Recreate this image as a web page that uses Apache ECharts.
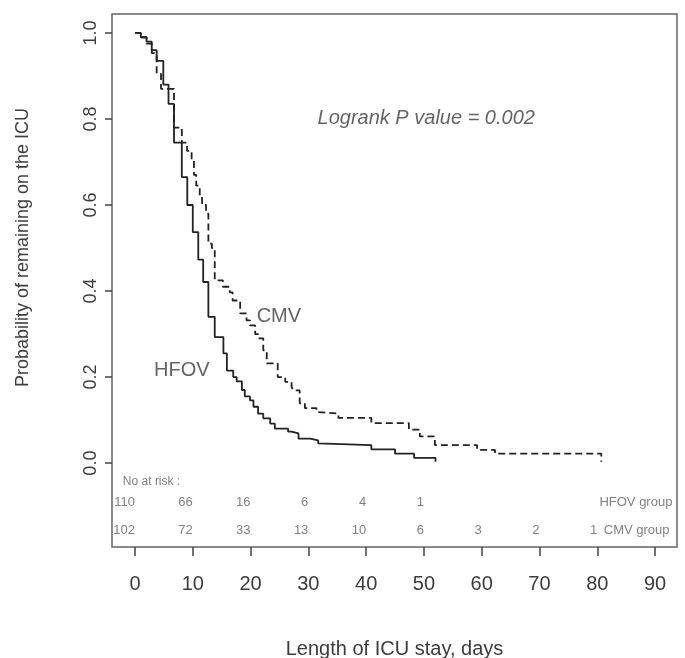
<!DOCTYPE html>
<html>
<head>
<meta charset="utf-8">
<script src="https://cdn.jsdelivr.net/npm/echarts@6/dist/echarts.min.js"></script>
<style>
  html, body { margin: 0; padding: 0; background: #fff; }
  #chart { width: 685px; height: 658px; }
</style>
</head>
<body>
<div id="chart"></div>
<script>
// Kaplan-Meier steps (day, probability)
var hfovDays = [0, 1, 2, 2.9, 3.75, 4.9, 5.8, 6.75, 8.1, 9.05, 10, 10.95, 11.8, 12.7, 13.8, 15.3, 15.9, 17.0, 17.6, 18.5, 19.0, 19.9, 20.5, 21.3, 22.2, 23.4, 24.2, 26.5, 27.1, 28.3, 30.3, 31.7, 32.0, 40.9, 45.0, 48.3, 52];
var hfovSurv = [1.0, 0.99, 0.98, 0.96, 0.935, 0.88, 0.835, 0.745, 0.665, 0.60, 0.537, 0.473, 0.421, 0.34, 0.293, 0.255, 0.215, 0.20, 0.19, 0.17, 0.155, 0.146, 0.131, 0.115, 0.104, 0.092, 0.08, 0.073, 0.069, 0.057, 0.053, 0.046, 0.042, 0.032, 0.022, 0.012, 0.003];

var cmvDays = [0, 1, 2, 2.9, 3.75, 4.5, 6.75, 8.1, 9.0, 9.8, 10.2, 10.6, 11.2, 11.6, 12.3, 12.7, 13.3, 13.8, 15.2, 16.4, 16.9, 18.2, 19.3, 19.9, 20.8, 21.3, 22.2, 22.8, 24.7, 26.0, 27.1, 27.4, 28.5, 29.4, 31.4, 31.7, 35.2, 40.9, 47.4, 49.3, 51.9, 59.2, 62.3, 80.7];
var cmvSurv = [1.0, 0.99, 0.975, 0.953, 0.905, 0.87, 0.78, 0.745, 0.726, 0.708, 0.67, 0.645, 0.62, 0.60, 0.58, 0.51, 0.50, 0.425, 0.41, 0.397, 0.378, 0.348, 0.332, 0.32, 0.30, 0.29, 0.262, 0.232, 0.20, 0.189, 0.177, 0.169, 0.139, 0.128, 0.119, 0.115, 0.105, 0.093, 0.078, 0.062, 0.042, 0.031, 0.022, 0.003];

// numbers at risk
var riskDays = [0, 10, 20, 30, 40, 50, 60, 70, 80];
var hfovRisk = [110, 66, 16, 6, 4, 1];
var cmvRisk = [102, 72, 33, 13, 10, 6, 3, 2, 1];

var xTicks = [0, 10, 20, 30, 40, 50, 60, 70, 80, 90];
var yTicks = [0, 0.2, 0.4, 0.6, 0.8, 1.0];

function pairs(xs, ys) {
  var out = [];
  for (var i = 0; i < ys.length; i++) out.push([xs[i], ys[i]]);
  return out;
}

var textColor = '#3c3c3c';
var riskColor = '#606060';
var font = 'Liberation Sans, Arial, Helvetica, sans-serif';

function textSeries(data, label) {
  return {
    type: 'scatter',
    symbolSize: 0,
    silent: true,
    data: data,
    label: Object.assign({ show: true, fontFamily: font }, label)
  };
}

var hfovRiskData = hfovRisk.map(function (n, i) { return { value: [riskDays[i], -0.091], name: String(n) }; });
var cmvRiskData = cmvRisk.map(function (n, i) { return { value: [riskDays[i], -0.156], name: String(n) }; });

var myChart = echarts.init(document.getElementById('chart'));

var option = {
  backgroundColor: '#fff',
  animation: false,
  grid: {
    left: 112, right: 8, top: 14, bottom: 111,
    outerBoundsMode: 'none',
    containLabel: false,
    show: true, borderColor: '#666', borderWidth: 1.5
  },
  xAxis: {
    type: 'value',
    min: -3.98, max: 93.8,
    name: 'Length of ICU stay, days',
    nameLocation: 'middle',
    nameGap: 92,
    nameTextStyle: { fontSize: 20, color: textColor, fontFamily: font },
    axisLine: { show: false, onZero: false },
    splitLine: { show: false },
    axisTick: { show: true, length: 9, customValues: xTicks, lineStyle: { color: '#444', width: 1.5 } },
    axisLabel: { customValues: xTicks, fontSize: 20, color: textColor, margin: 27, fontFamily: font }
  },
  yAxis: {
    type: 'value',
    min: -0.195, max: 1.044,
    name: 'Probability of remaining on the ICU',
    nameLocation: 'middle',
    nameRotate: 90,
    nameGap: 80,
    // R centres this title on the 0-1 range, not on the whole box
    nameTextStyle: { fontSize: 18, color: textColor, fontFamily: font, padding: [0, 0, 0, 66] },
    axisLine: { show: false, onZero: false },
    splitLine: { show: false },
    axisTick: { show: true, length: 7, customValues: yTicks, lineStyle: { color: '#444', width: 1.5 } },
    axisLabel: {
      customValues: yTicks, rotate: 90, fontSize: 18, color: textColor, margin: 12, fontFamily: font,
      formatter: function (v) { return v.toFixed(1); }
    }
  },
  series: [
    {
      name: 'HFOV', type: 'line', step: 'end', showSymbol: false, silent: true,
      data: pairs(hfovDays, hfovSurv),
      lineStyle: { color: '#222', width: 1.8 }
    },
    {
      name: 'CMV', type: 'line', step: 'end', showSymbol: false, silent: true,
      data: pairs(cmvDays, cmvSurv),
      lineStyle: { color: '#222', width: 1.8, type: [7, 4] }
    },
    textSeries([{ value: [50.4, 0.802], name: 'Logrank P value = 0.002' }],
      { formatter: '{b}', position: 'inside', fontSize: 20, fontStyle: 'italic', color: textColor }),
    textSeries([{ value: [24.9, 0.34], name: 'CMV' }, { value: [8.1, 0.216], name: 'HFOV' }],
      { formatter: '{b}', position: 'inside', fontSize: 20, color: textColor }),
    textSeries([{ value: [-2.1, -0.044], name: 'No at risk :' }],
      { formatter: '{b}', position: 'right', distance: 0, fontSize: 12, color: riskColor }),
    textSeries(hfovRiskData.concat(cmvRiskData),
      { formatter: '{b}', position: 'left', distance: 0, fontSize: 13, color: riskColor }),
    textSeries([{ value: [93, -0.091], name: 'HFOV group' }, { value: [92.5, -0.156], name: 'CMV group' }],
      { formatter: '{b}', position: 'left', distance: 0, fontSize: 13, color: riskColor })
  ]
};

myChart.setOption(option);
</script>
</body>
</html>
